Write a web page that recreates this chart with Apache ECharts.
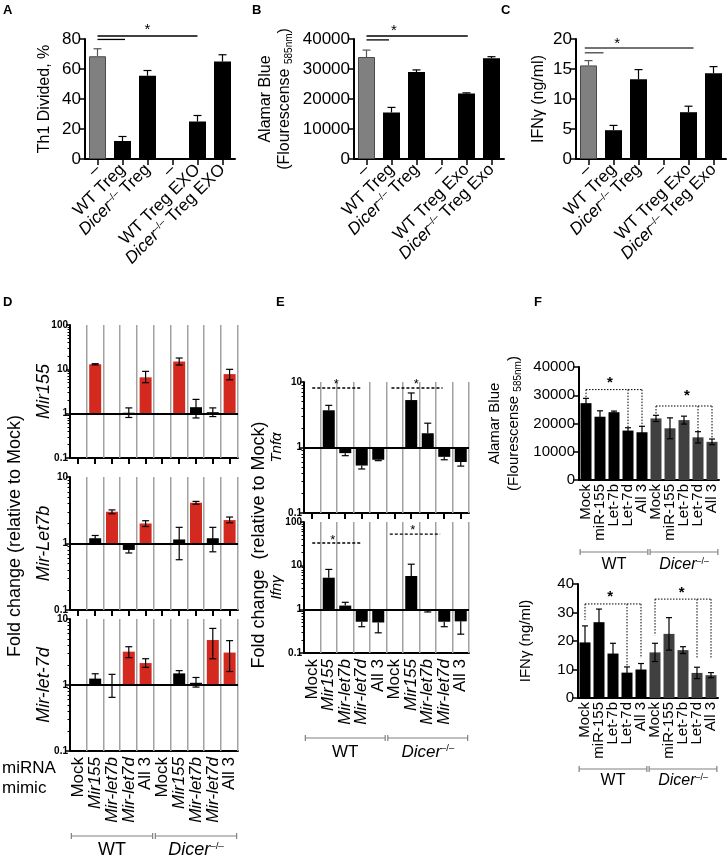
<!DOCTYPE html>
<html>
<head>
<meta charset="utf-8">
<script src="https://cdn.jsdelivr.net/npm/echarts@6/dist/echarts.min.js"></script>
<style>
  html, body { margin: 0; background: #fff; }
  #chart { width: 728px; height: 858px; }
</style>
</head>
<body>
<div id="chart"></div>
<script>
const FONT = "'Liberation Sans', Arial, Helvetica, sans-serif";
const RED = '#d3291e';
const DICER_GRAY = '#404040';

// ---- A-C: Th1 co-culture with Treg / Treg exosomes
const catsA = ['–', 'WT Treg', 'Dicer Treg', '–', 'WT Treg EXO', 'Dicer Treg EXO'];
const catsBC = ['–', 'WT Treg', 'Dicer Treg', '–', 'WT Treg Exo', 'Dicer Treg Exo'];
const th1Divided = [68.5, 12, 55.5, null, 25, 65];
const th1DividedErr = [5, 3, 3.5, null, 4, 4.5];
const alamarBlue = [34000, 15500, 29000, null, 21800, 33600];
const alamarBlueErr = [2300, 1700, 700, null, 250, 500];
const ifngTreg = [15.6, 4.8, 13.3, null, 7.8, 14.3];
const ifngTregErr = [0.8, 0.8, 1.6, null, 1.0, 1.1];
// significance lines [from, to, level] and star [x, y]
const sigA = [[0, 4, 82], [0, 1.1, 79.7]];
const starA = [[2, 88]];
const sigB = [[0, 4.05, 41000], [0, 0.9, 39700]];
const starB = [[1.1, 43700]];
const sigC = [[-0.15, 4.2, 18.5], [-0.15, 0.6, 17.7]];
const starC = [[1.15, 19.8]];

// ---- D/E: fold change (relative to Mock), log scale
const mimics = ['Mock', 'Mir155', 'Mir-let7b', 'Mir-let7d', 'All 3', 'Mock', 'Mir155', 'Mir-let7b', 'Mir-let7d', 'All 3'];
const groups = [[0, 4], [5, 9]];
const groupNames = ['WT', 'Dicer'];

const mir155Fold = [1, 13, 1.02, 1.05, 6.6, 1, 15, 1.4, 1.08, 7.8];
const mir155Lo = [null, 12.6, null, 0.82, 5, null, 12.5, 0.8, 0.86, 5.8];
const mir155Hi = [null, 13.4, null, 1.35, 9, null, 18, 2.1, 1.35, 10];

const let7bFold = [1, 1.2, 3.0, 0.8, 2.0, 1, 1.15, 4.1, 1.2, 2.25];
const let7bLo = [null, 1.1, 2.8, 0.72, 1.8, null, 0.57, 3.9, 0.75, 2.05];
const let7bHi = [null, 1.32, 3.2, 0.86, 2.2, null, 1.75, 4.3, 1.75, 2.5];

const let7dFold = [1, 1.25, 1.0, 3.2, 2.15, 1, 1.5, 1.08, 4.8, 3.1];
const let7dLo = [null, 1.05, 0.65, 2.6, 1.85, null, 1.4, 0.93, 2.5, 1.6];
const let7dHi = [null, 1.48, 1.45, 3.8, 2.5, null, 1.65, 1.3, 7.2, 4.7];

const tnfFold = [1, 3.7, 0.82, 0.53, 0.65, 1, 5.3, 1.65, 0.72, 0.6];
const tnfErrEnd = [null, 4.4, 0.75, 0.47, 0.63, null, 6.8, 2.35, 0.65, 0.52];
const ifngFold = [1, 5.3, 1.22, 0.52, 0.5, 1, 5.8, 0.97, 0.52, 0.53];
const ifngErrEnd = [null, 8.2, 1.45, 0.4, 0.29, null, 10.8, 0.87, 0.4, 0.27];
const sigTnf = [[0, 3, 8.1], [4.8, 7.9, 8.1]];
const starTnf = [[1.45, 10], [6.3, 10]];
const sigIfng = [[0, 3, 33], [4.7, 7.75, 53]];
const starIfng = [[1.25, 45], [6.1, 73]];

// ---- F: miRNA mimic transfected Treg
const fMimics = ['Mock', 'miR-155', 'Let-7b', 'Let-7d', 'All 3', 'Mock', 'miR-155', 'Let-7b', 'Let-7d', 'All 3'];
const alamarF = [27200, 22400, 24000, 17500, 16900, 21800, 18300, 21200, 15100, 13500];
const alamarFErr = [1700, 2100, 400, 1000, 2100, 1100, 3700, 1400, 2000, 1000];
const ifngF = [19.5, 26.6, 15.6, 8.9, 10, 16, 22.5, 16.8, 8.8, 8];
const ifngFErr = [5.8, 4.6, 3.6, 2, 2.1, 3.2, 5.7, 1.2, 2, 0.9];
// brackets: [level, legs, leg ends]
const fAlamarSig = [[32000, [0, 3, 4], [28900, 18500, 19000]], [26200, [5, 8, 9], [22900, 17100, 14500]]];
const fAlamarStars = [[1.7, 35400], [7.2, 30800]];
const fIfngSig = [[33, [0, 3, 4], [27.4, 10.9, 14]], [34.7, [5, 8, 9], [22, 14.2, 14.2]]];
const fIfngStars = [[1.8, 36.8], [6.9, 38.2]];

function txt(size, extra) {
  return Object.assign({ color: '#000', fontSize: size, fontFamily: FONT }, extra || {});
}
function fmtTreg(s) {
  return s.indexOf('Dicer') === 0 ? '{i|Dicer}{s|–/–}' + s.slice(5) : s;
}
function fmtMimic(s) {
  return s.indexOf('Mir') === 0 ? '{i|' + s + '}' : s;
}

const AXIS_LINE = { show: true, onZero: false, lineStyle: { color: '#000', width: 2 } };
const X_TICK = { show: true, interval: 0, alignWithLabel: true, length: 6, lineStyle: { color: '#000', width: 1.5 } };

const labelTreg = txt(17, { show: true, interval: 0, rotate: 45, margin: 8, formatter: fmtTreg,
  rich: { i: { fontStyle: 'italic' }, s: { fontSize: 10, verticalAlign: 'top' } } });
const labelMimic = txt(17, { show: true, interval: 0, rotate: 90, margin: 6, formatter: fmtMimic,
  rich: { i: { fontStyle: 'italic' } } });
const labelF = txt(15, { show: true, interval: 0, rotate: 90, margin: 4 });

function catAxis(gi, cats, opt) {
  return Object.assign({
    type: 'category', gridIndex: gi, data: cats,
    axisLine: AXIS_LINE, axisTick: { show: false }, axisLabel: { show: false },
    splitLine: { show: false }
  }, opt || {});
}
function linAxis(gi, max, interval, size, name, nameGap, nameSize, rich) {
  return {
    type: 'value', gridIndex: gi, min: 0, max: max, interval: interval,
    axisLine: AXIS_LINE,
    axisTick: { show: true, length: 6, lineStyle: { color: '#000', width: 1.5 } },
    axisLabel: txt(size, { margin: 4, formatter: v => String(v) }),
    splitLine: { show: false },
    name: name, nameLocation: 'middle', nameRotate: 90, nameGap: nameGap, nameMoveOverlap: false,
    nameTextStyle: txt(nameSize, { lineHeight: 19, rich: rich || {} })
  };
}
function logAxis(gi, max, name, nameGap, nameSize) {
  return {
    type: 'log', logBase: 10, gridIndex: gi, min: 0.1, max: max,
    axisLine: AXIS_LINE,
    axisTick: { show: true, length: 4, lineStyle: { color: '#000', width: 1.5 } },
    minorTick: { show: true, splitNumber: 9, length: 2.5, lineStyle: { color: '#000', width: 1 } },
    axisLabel: txt(10, { fontWeight: 'bold', margin: 2 }),
    splitLine: { show: false },
    name: name, nameLocation: 'middle', nameRotate: 90, nameGap: nameGap, nameMoveOverlap: false,
    nameTextStyle: txt(nameSize, { fontStyle: 'italic' })
  };
}

function barSeries(gi, values, colorOf, width) {
  return {
    type: 'bar', xAxisIndex: gi, yAxisIndex: gi, barWidth: width, silent: true,
    data: values.map((v, i) => ({ value: v, itemStyle: colorOf(i) }))
  };
}
function errSeries(gi, items, cap, colorOf, both) {
  return {
    type: 'custom', xAxisIndex: gi, yAxisIndex: gi, clip: false, silent: true, z: 4,
    data: items, encode: { x: 0, y: [1, 2] },
    renderItem: function (params, api) {
      const x = api.value(0);
      const a = api.coord([x, api.value(1)]);
      const b = api.coord([x, api.value(2)]);
      const st = { stroke: colorOf(x), lineWidth: 1.2 };
      const kids = [
        { type: 'line', shape: { x1: a[0], y1: a[1], x2: b[0], y2: b[1] }, style: st },
        { type: 'line', shape: { x1: b[0] - cap, y1: b[1], x2: b[0] + cap, y2: b[1] }, style: st }
      ];
      if (both) kids.push({ type: 'line', shape: { x1: a[0] - cap, y1: a[1], x2: a[0] + cap, y2: a[1] }, style: st });
      return { type: 'group', children: kids };
    }
  };
}
function oneSided(values, err, add) {
  return values.map((v, i) => v == null || err[i] == null ? null : [i, v, add ? v + err[i] : err[i]]).filter(Boolean);
}
function twoSided(lo, hi) {
  return lo.map((l, i) => l == null ? null : [i, l, hi[i]]).filter(Boolean);
}
// vertical gray separators between all categories (and ticks under the axis), one group
function catGridSeries(gi, yMin, cats, ticks) {
  return {
    type: 'custom', xAxisIndex: gi, yAxisIndex: gi, clip: false, silent: true, z: 1,
    data: [[0, yMin]], encode: { x: 0, y: 1 },
    renderItem: function (params, api) {
      const cs = params.coordSys;
      const c0 = api.coord([0, yMin]);
      const bw = api.coord([1, yMin])[0] - c0[0];
      const bottom = cs.y + cs.height;
      const kids = [];
      cats.forEach((c, i) => {
        const cx = c0[0] + i * bw;
        const bx = Math.round(cx + bw / 2);
        kids.push({ type: 'rect', shape: { x: bx - 1, y: cs.y, width: 1.5, height: cs.height }, style: { fill: '#a2a2a2' } });
        if (ticks) {
          kids.push({ type: 'rect', shape: { x: Math.round(cx) - 1, y: bottom, width: 2, height: 6 }, style: { fill: '#000' } });
        }
      });
      return { type: 'group', children: kids };
    }
  };
}
function logBars(gi, values, colors) {
  return {
    type: 'custom', xAxisIndex: gi, yAxisIndex: gi, silent: true, z: 2,
    data: values.map((v, i) => [i, v]), encode: { x: 0, y: 1 },
    renderItem: function (params, api) {
      const x = api.value(0);
      const b = api.coord([x, 1]);
      const t = api.coord([x, api.value(1)]);
      return {
        type: 'rect',
        shape: { x: b[0] - 6, y: Math.min(b[1], t[1]), width: 12, height: Math.abs(t[1] - b[1]) },
        style: { fill: colors[x] }
      };
    },
    markLine: {
      silent: true, symbol: 'none', label: { show: false }, animation: false,
      lineStyle: { color: '#000', width: 2, type: 'solid' }, data: [{ yAxis: 1 }]
    }
  };
}
function sigLines(gi, lines, dash, color) {
  return {
    type: 'custom', xAxisIndex: gi, yAxisIndex: gi, clip: false, silent: true, z: 5,
    data: lines.map(l => [0, l[0], l[1], l[2]]), encode: { x: 0, y: 3 },
    renderItem: function (params, api) {
      const lv = api.value(3);
      const p0 = api.coord([0, lv]), p1 = api.coord([1, lv]);
      const bw = p1[0] - p0[0];
      return {
        type: 'line',
        shape: { x1: p0[0] + api.value(1) * bw, y1: p0[1], x2: p0[0] + api.value(2) * bw, y2: p0[1] },
        style: { stroke: color, lineWidth: 1.3, lineDash: dash }
      };
    }
  };
}
function starSeries(gi, stars, size, bold) {
  return {
    type: 'custom', xAxisIndex: gi, yAxisIndex: gi, clip: false, silent: true, z: 5,
    data: stars.map(s => [0, s[0], s[1]]), encode: { x: 0, y: 2 },
    renderItem: function (params, api) {
      const y = api.value(2);
      const p0 = api.coord([0, y]), p1 = api.coord([1, y]);
      return {
        type: 'text', x: p0[0] + api.value(1) * (p1[0] - p0[0]), y: p0[1] + size * 0.22,
        style: { text: '*', fontSize: size, fontFamily: FONT, fontWeight: bold ? 'bold' : 'normal',
          fill: '#000', align: 'center', verticalAlign: 'middle' }
      };
    }
  };
}
function bracketSeries(gi, brackets) {
  return {
    type: 'custom', xAxisIndex: gi, yAxisIndex: gi, clip: false, silent: true, z: 5,
    data: brackets.map(b => [b[1][0], b[0]]), encode: { x: 0, y: 1 },
    renderItem: function (params, api) {
      const b = brackets[params.dataIndex];
      const st = { stroke: '#000', lineWidth: 1, lineDash: [1.5, 1.5] };
      const top = b[1].map(x => api.coord([x, b[0]]));
      const kids = [{ type: 'line', shape: { x1: top[0][0], y1: top[0][1], x2: top[top.length - 1][0], y2: top[0][1] }, style: st }];
      b[1].forEach((x, k) => {
        const end = api.coord([x, b[2][k]]);
        kids.push({ type: 'line', shape: { x1: top[k][0], y1: top[k][1], x2: end[0], y2: end[1] }, style: st });
      });
      return { type: 'group', children: kids };
    }
  };
}
function groupSeries(gi, yMin, offset, labelGap, size) {
  return {
    type: 'custom', xAxisIndex: gi, yAxisIndex: gi, clip: false, silent: true, z: 5,
    data: groups.map(g => [g[0], yMin]), encode: { x: 0, y: 1 },
    renderItem: function (params, api) {
      const g = groups[params.dataIndex];
      const a = api.coord([g[0], yMin]), b = api.coord([g[1], yMin]);
      const bw = (b[0] - a[0]) / (g[1] - g[0]);
      const x1 = a[0] - 0.42 * bw, x2 = b[0] + 0.42 * bw, y = a[1] + offset;
      const st = { stroke: '#808080', lineWidth: 1.2 };
      const name = groupNames[params.dataIndex];
      return {
        type: 'group', children: [
          { type: 'line', shape: { x1: x1, y1: y, x2: x2, y2: y }, style: st },
          { type: 'line', shape: { x1: x1, y1: y - 3, x2: x1, y2: y + 3 }, style: st },
          { type: 'line', shape: { x1: x2, y1: y - 3, x2: x2, y2: y + 3 }, style: st },
          {
            type: 'text', x: (x1 + x2) / 2, y: y + labelGap,
            style: {
              text: name === 'Dicer' ? '{i|Dicer}{s|–/–}' : name,
              fontSize: size, fontFamily: FONT, fill: '#000', align: 'center', verticalAlign: 'middle',
              rich: {
                i: { fontSize: size, fontFamily: FONT, fontStyle: 'italic', fill: '#000' },
                s: { fontSize: size * 0.55, fontFamily: FONT, fill: '#000', verticalAlign: 'top' }
              }
            }
          }
        ]
      };
    }
  };
}

const trColor = i => i === 0 ? { color: '#808080', borderColor: '#4a4a4a', borderWidth: 1 } : { color: '#000' };
const trErrColor = x => x === 0 ? '#555' : '#000';
const fColor = i => ({ color: i < 5 ? '#000' : DICER_GRAY });
const black = () => '#000';
function redFor(target) {
  return mimics.map(m => m === target || m === 'All 3' ? RED : '#000');
}
const allBlack = mimics.map(() => '#000');

const grids = [
  { left: 85, top: 39, width: 150, height: 120 },
  { left: 354, top: 39, width: 150, height: 120 },
  { left: 576, top: 39, width: 150, height: 120 },
  { left: 70, top: 325, width: 168, height: 133 },
  { left: 70, top: 477, width: 168, height: 133 },
  { left: 70, top: 619, width: 168, height: 132 },
  { left: 304, top: 382, width: 165, height: 131 },
  { left: 304, top: 522, width: 165, height: 131 },
  { left: 579, top: 367, width: 140, height: 113 },
  { left: 578, top: 584, width: 140, height: 114 }
];

const subRich = { sub: { fontSize: 10, verticalAlign: 'bottom' } };

const chart = echarts.init(document.getElementById('chart'));
chart.setOption({
  animation: false,
  textStyle: { fontFamily: FONT },
  grid: grids.map(g => Object.assign({ containLabel: false, outerBoundsMode: 'none' }, g)),
  xAxis: [
    catAxis(0, catsA, { axisTick: X_TICK, axisLabel: labelTreg }),
    catAxis(1, catsBC, { axisTick: X_TICK, axisLabel: labelTreg }),
    catAxis(2, catsBC, { axisTick: X_TICK, axisLabel: labelTreg }),
    catAxis(3, mimics),
    catAxis(4, mimics),
    catAxis(5, mimics, { axisLabel: labelMimic }),
    catAxis(6, mimics),
    catAxis(7, mimics, { axisLabel: labelMimic }),
    catAxis(8, fMimics, { axisLabel: labelF }),
    catAxis(9, fMimics, { axisLabel: labelF })
  ],
  yAxis: [
    linAxis(0, 80, 20, 17, 'Th1 Divided, %', 31, 16),
    linAxis(1, 40000, 10000, 17, 'Alamar Blue\n(Flourescense {sub|585nm})', 60, 16, subRich),
    linAxis(2, 20, 5, 17, 'IFNγ (ng/ml)', 28, 16),
    logAxis(3, 100, 'Mir155', 17, 18),
    logAxis(4, 10, 'Mir-Let7b', 17, 18),
    logAxis(5, 10, 'Mir-let-7d', 17, 18),
    logAxis(6, 10, 'Tnfα', 20, 15),
    logAxis(7, 100, 'Ifnγ', 20, 15),
    linAxis(8, 40000, 10000, 15, 'Alamar Blue\n(Flourescense {sub|585nm})', 56, 15, subRich),
    linAxis(9, 40, 10, 15, 'IFNγ (ng/ml)', 43, 15)
  ],
  series: [
    // A
    barSeries(0, th1Divided, trColor, 17),
    errSeries(0, oneSided(th1Divided, th1DividedErr, true), 4, trErrColor, false),
    sigLines(0, sigA, null, '#000'),
    starSeries(0, starA, 15),
    // B
    barSeries(1, alamarBlue, trColor, 17),
    errSeries(1, oneSided(alamarBlue, alamarBlueErr, true), 4, trErrColor, false),
    sigLines(1, sigB, null, '#000'),
    starSeries(1, starB, 15),
    // C
    barSeries(2, ifngTreg, trColor, 17),
    errSeries(2, oneSided(ifngTreg, ifngTregErr, true), 4, trErrColor, false),
    sigLines(2, sigC, null, '#444'),
    starSeries(2, starC, 15),
    // D
    catGridSeries(3, 0.1, mimics, true),
    catGridSeries(4, 0.1, mimics, true),
    catGridSeries(5, 0.1, mimics, false),
    logBars(3, mir155Fold, redFor('Mir155')),
    errSeries(3, twoSided(mir155Lo, mir155Hi), 3.5, black, true),
    logBars(4, let7bFold, redFor('Mir-let7b')),
    errSeries(4, twoSided(let7bLo, let7bHi), 3.5, black, true),
    logBars(5, let7dFold, redFor('Mir-let7d')),
    errSeries(5, twoSided(let7dLo, let7dHi), 3.5, black, true),
    groupSeries(5, 0.1, 85, 14, 18),
    // E
    catGridSeries(6, 0.1, mimics, true),
    catGridSeries(7, 0.1, mimics, false),
    logBars(6, tnfFold, allBlack),
    errSeries(6, oneSided(tnfFold, tnfErrEnd, false), 3.5, black, false),
    sigLines(6, sigTnf, [3, 2], '#000'),
    starSeries(6, starTnf, 13),
    logBars(7, ifngFold, allBlack),
    errSeries(7, oneSided(ifngFold, ifngErrEnd, false), 3.5, black, false),
    sigLines(7, sigIfng, [3, 2], '#000'),
    starSeries(7, starIfng, 13),
    groupSeries(7, 0.1, 85, 14, 17),
    // F
    barSeries(8, alamarF, fColor, 11),
    errSeries(8, alamarF.map((v, i) => [i, v - alamarFErr[i], v + alamarFErr[i]]), 3, black, true),
    bracketSeries(8, fAlamarSig),
    starSeries(8, fAlamarStars, 15, true),
    groupSeries(8, 0, 72, 13, 16),
    barSeries(9, ifngF, fColor, 11),
    errSeries(9, ifngF.map((v, i) => [i, v - ifngFErr[i], v + ifngFErr[i]]), 3, black, true),
    bracketSeries(9, fIfngSig),
    starSeries(9, fIfngStars, 15, true),
    groupSeries(9, 0, 71, 12, 16)
  ],
  graphic: [
    { type: 'text', left: 3, top: 4, style: { text: 'A', font: 'bold 13px ' + FONT, fill: '#000' } },
    { type: 'text', left: 252, top: 4, style: { text: 'B', font: 'bold 13px ' + FONT, fill: '#000' } },
    { type: 'text', left: 501, top: 4, style: { text: 'C', font: 'bold 13px ' + FONT, fill: '#000' } },
    { type: 'text', left: 3, top: 296, style: { text: 'D', font: 'bold 13px ' + FONT, fill: '#000' } },
    { type: 'text', left: 276, top: 296, style: { text: 'E', font: 'bold 13px ' + FONT, fill: '#000' } },
    { type: 'text', left: 534, top: 296, style: { text: 'F', font: 'bold 13px ' + FONT, fill: '#000' } },
    { type: 'text', x: 15, y: 536, rotation: Math.PI / 2,
      style: { text: 'Fold change (relative to Mock)', fontSize: 18, fontFamily: FONT, fill: '#000', align: 'center', verticalAlign: 'middle' } },
    { type: 'text', x: 259, y: 545, rotation: Math.PI / 2,
      style: { text: 'Fold change  (relative to Mock)', fontSize: 18, fontFamily: FONT, fill: '#000', align: 'center', verticalAlign: 'middle' } },
    { type: 'text', x: 2, y: 768,
      style: { text: 'miRNA', fontSize: 17, fontFamily: FONT, fill: '#000', align: 'left', verticalAlign: 'middle' } },
    { type: 'text', x: 2, y: 788,
      style: { text: 'mimic', fontSize: 17, fontFamily: FONT, fill: '#000', align: 'left', verticalAlign: 'middle' } }
  ]
});
</script>
</body>
</html>
